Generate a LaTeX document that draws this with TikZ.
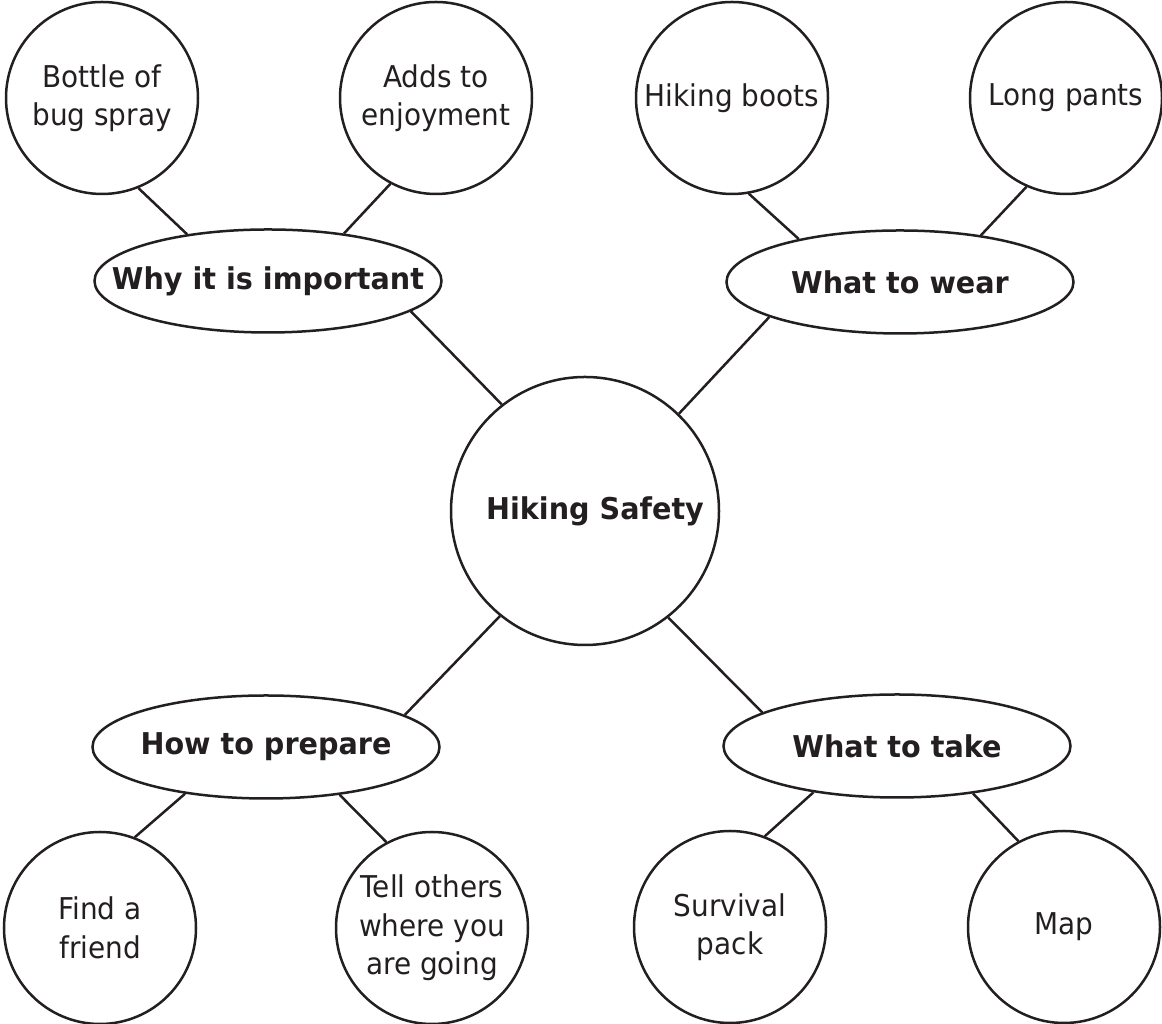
\documentclass[tikz,border=0pt]{standalone}
\usepackage{fontspec}
\setmainfont{DejaVu Sans}[FakeStretch=0.93,BoldFeatures={FakeStretch=0.955}]
\usetikzlibrary{shapes.geometric}
\definecolor{ink}{HTML}{231F20}
\tikzset{
  leaf/.style={circle,draw=ink,line width=2.5pt,minimum size=192pt,inner sep=0pt,
    align=center,text=ink,font=\fontsize{30}{38.5}\selectfont},
  hub/.style={circle,draw=ink,line width=2.5pt,minimum size=268pt,inner sep=0pt,
    text=ink,font=\fontsize{30}{38.5}\selectfont\bfseries},
  topic/.style={ellipse,draw=ink,line width=2.5pt,minimum width=347pt,minimum height=103pt,
    inner sep=0pt,text=ink,font=\fontsize{30}{38.5}\selectfont\bfseries},
  link/.style={draw=ink,line width=2.5pt}
}
\begin{document}
\begin{tikzpicture}[x=1pt,y=1pt]
\useasboundingbox (0,0) rectangle (1162,1024);
% leaves top
\node[leaf] (bottle) at (102,926) {Bottle of\\bug spray};
\node[leaf] (adds) at (436,926) {Adds to\\enjoyment};
\node[leaf] (boots) at (732,926) {Hiking boots};
\node[leaf] (pants) at (1066,926) {Long pants};
% topics
\node[topic] (why) at (268,743) {\makebox[0pt][c]{Why it is important}};
\node[topic] (wear) at (900,742) {\makebox[0pt][c]{What to wear}};
\node[topic] (how) at (266,277) {\makebox[0pt][c]{How to prepare}};
\node[topic] (take) at (897,278) {\makebox[0pt][c]{What to take}};
% hub
\node[hub] (hub) at (585,513) {\hspace*{20pt}Hiking Safety};
% leaves bottom
\node[leaf] (find) at (100,96) {Find a\\friend};
\node[leaf] (tell) at (432,96) {Tell others\\where you\\are going};
\node[leaf] (surv) at (730,97) {Survival\\pack};
\node[leaf] (map) at (1064,97) {Map};
% connectors
\draw[link] (bottle.-68) -- (why.150);
\draw[link] (adds.-118) -- (why.32);
\draw[link] (why.-12) -- (hub.128);
\draw[link] (boots.-80) -- (wear.157);
\draw[link] (pants.-114) -- (wear.30);
\draw[link] (wear.195) -- (hub.46);
\draw[link] (hub.-129) -- (how.13);
\draw[link] (hub.-52) -- (take.166);
\draw[link] (how.-150) -- (find.69);
\draw[link] (how.-33) -- (tell.118);
\draw[link] (take.-151) -- (surv.69);
\draw[link] (take.-32) -- (map.118);
\end{tikzpicture}
\end{document}
